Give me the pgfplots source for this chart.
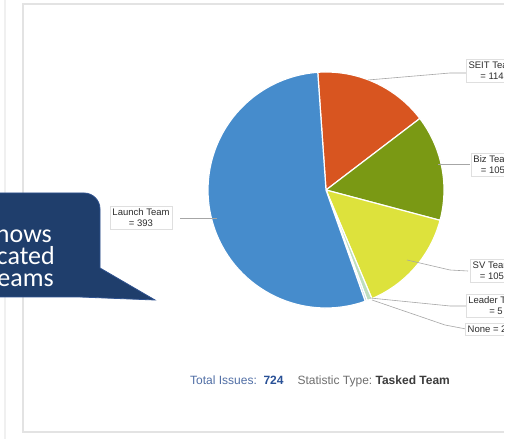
\documentclass[border=0pt]{standalone}
\usepackage{pgfplots}
\pgfplotsset{compat=1.18}
\usepackage{pgfplotstable}
\usepackage{fontspec}
\setmainfont{Liberation Sans}
\newfontfamily\calibri{Carlito}
\definecolor{cseit}{RGB}{216,85,32}
\definecolor{cbiz}{RGB}{122,153,20}
\definecolor{csv}{RGB}{221,226,60}
\definecolor{clead}{RGB}{190,222,190}
\definecolor{cnone}{RGB}{165,205,225}
\definecolor{claunch}{RGB}{70,140,204}
\definecolor{callfill}{RGB}{31,62,108}
\definecolor{calldraw}{RGB}{47,82,143}
\definecolor{tblue}{RGB}{80,110,165}
\definecolor{tblue2}{RGB}{40,80,150}
\definecolor{tgray}{RGB}{110,110,110}
\definecolor{tdark}{RGB}{60,60,60}
\definecolor{lbltext}{RGB}{45,45,45}

\pgfplotstableread{
name value color
SEIT 114 cseit
Biz 105 cbiz
SV 105 csv
Leader 5 clead
None 2 cnone
Launch 393 claunch
}\piedata

\begin{document}
\begin{tikzpicture}[x=1pt,y=1pt]
\useasboundingbox (0,0) rectangle (520,439);
\clip (0,0) rectangle (520,439);
\fill[white] (0,0) rectangle (520,439);
% faint outer line and panel frame
\draw[gray!12, line width=1.5pt] (5,0) -- (5,439);
\draw[gray!22, line width=1.2pt] (540,435) -- (23,435) -- (23,7) -- (540,7);
\begin{axis}[x=1pt, y=1pt, xmin=0, xmax=520, ymin=0, ymax=439,
  hide axis, anchor=origin, at={(0,0)}, clip=false, scale only axis]
\pgfplotstablegetrowsof{\piedata}
\pgfmathtruncatemacro{\lastrow}{\pgfplotsretval-1}
\gdef\curangle{94}
\pgfplotsforeachungrouped \i in {0,...,\lastrow}{%
  \pgfplotstablegetelem{\i}{value}\of{\piedata}%
  \pgfmathsetmacro{\slicespan}{\pgfplotsretval/724*360}%
  \pgfplotstablegetelem{\i}{color}\of{\piedata}%
  \let\slicecolor\pgfplotsretval
  \pgfmathsetmacro{\endangle}{\curangle-\slicespan}%
  \edef\temp{\noexpand\fill[\slicecolor, draw=white, line width=1.2pt] (axis cs:326,249) -- ++(\curangle:118pt) arc[start angle=\curangle, end angle=\endangle, radius=118pt] -- cycle;}%
  \temp
  \global\let\curangle\endangle
}
% leader lines
\draw[gray!70, line width=0.6pt] (axis cs:217,221) -- (axis cs:180,221);
\draw[gray!70, line width=0.6pt] (axis cs:368,359) -- (axis cs:450,366) -- (axis cs:466,366);
\draw[gray!70, line width=0.6pt] (axis cs:438,275) -- (axis cs:470,275);
\draw[gray!70, line width=0.6pt] (axis cs:407,179) -- (axis cs:450,169) -- (axis cs:468,168);
\draw[gray!70, line width=0.6pt] (axis cs:370,141) -- (axis cs:450,133) -- (axis cs:466,133);
\draw[gray!70, line width=0.6pt] (axis cs:372,139) -- (axis cs:445,114) -- (axis cs:466,110);
% labels
\tikzset{lbl/.style={draw=gray!25, fill=white, inner sep=2.5pt, align=center,
  text=lbltext, font=\fontsize{9.5}{11}\selectfont}}
\node[lbl] at (axis cs:141,221) {Launch Team\\= 393};
\node[lbl] at (axis cs:492,368) {SEIT Team\\= 114};
\node[lbl] at (axis cs:493,274) {Biz Team\\= 105};
\node[lbl] at (axis cs:492,168) {SV Team\\= 105};
\node[lbl] at (axis cs:496,133) {Leader Team\\= 5};
\node[lbl, anchor=west] at (axis cs:465,110) {None = 2};
% footer
\node[anchor=base west, inner sep=0pt, font=\fontsize{12}{14}\selectfont] at (axis cs:190,54)
  {{\color{tblue}Total Issues:}\ \ {\bfseries\color{tblue2}724}\hspace{14pt}{\color{tgray}Statistic Type:}\ {\bfseries\color{tdark}Tasked Team}};
\end{axis}
% white cut on the right
\fill[white] (504,0) rectangle (520,439);
% callout
\fill[callfill, draw=calldraw, line width=0.8pt]
  (-20,246) -- (84,246) arc[start angle=90, end angle=0, radius=16] -- (100,171)
  -- (155,139) -- (80,142) -- (-20,142) -- cycle;
\node[anchor=base east, text=white, inner sep=0pt, font=\calibri\fontsize{26}{30}\selectfont] at (52,196) {Shows};
\node[anchor=base east, text=white, inner sep=0pt, font=\calibri\fontsize{26}{30}\selectfont] at (55,174) {allocated};
\node[anchor=base east, text=white, inner sep=0pt, font=\calibri\fontsize{26}{30}\selectfont] at (54,152) {teams};
\end{tikzpicture}
\end{document}
